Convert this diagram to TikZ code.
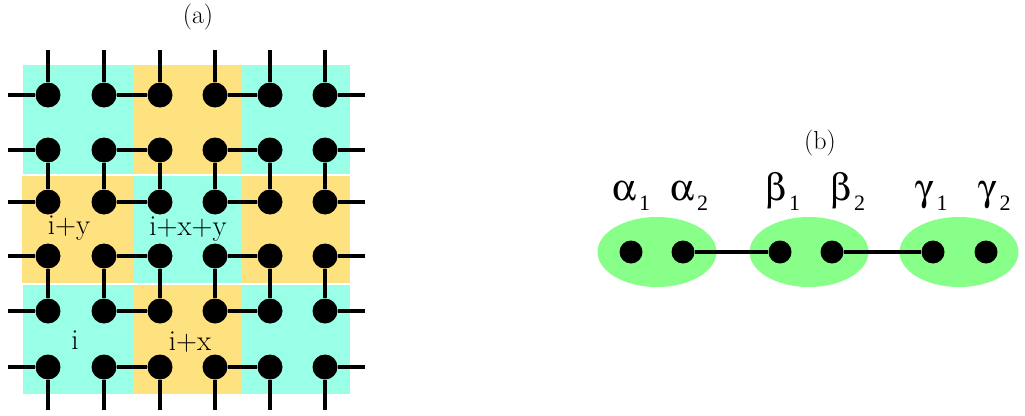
\documentclass[tikz,border=0pt]{standalone}
\usepackage{fontspec}
\usepackage[Symbol]{upgreek}
\usetikzlibrary{shapes.geometric}
\newfontfamily\digitfont{Liberation Serif}
\definecolor{plaqcyan}{RGB}{153,255,230}
\definecolor{plaqyellow}{RGB}{255,226,128}
\definecolor{clustergreen}{RGB}{136,255,136}
\newcommand{\sitelab}[2]{{\fontsize{38}{38}\selectfont$#1$}\kern3pt\raisebox{-10pt}{\fontsize{22}{22}\digitfont #2}}
\tikzset{
  site/.style={circle, fill=black, inner sep=0pt, minimum size=25pt},
  smallsite/.style={circle, fill=black, inner sep=0pt, minimum size=23pt},
  bond/.style={line width=4.5pt},
  thinbond/.style={line width=3.2pt},
  cluster/.style={ellipse, fill=clustergreen, inner sep=0pt, minimum width=119pt, minimum height=70pt},
  plaqlab/.style={font=\fontsize{29}{29}\selectfont, inner sep=0pt, anchor=base},
  panel/.style={font=\fontsize{26}{26}\selectfont, inner sep=0pt}
}
\begin{document}
\begin{tikzpicture}[x=1pt, y=-1pt]
\useasboundingbox (0,0) rectangle (1025,415);
% (a) the plaquettes, checkerboard
\foreach \xa/\xb/\ya/\yb/\col in {23/133/65/174/plaqcyan, 133/241/65/174/plaqyellow, 241/350/65/174/plaqcyan,
  22/133/176/283/plaqyellow, 133/241/176/283/plaqcyan, 241/350/176/283/plaqyellow,
  23/133/285/394/plaqcyan, 133/241/285/394/plaqyellow, 241/350/285/394/plaqcyan}
  \fill[\col] (\xa,\ya) rectangle (\xb,\yb);
\node[panel] (ta) at (198,17) {(a)};
\node[plaqlab] (lab-iy) at (69,234) {i+y};
\node[plaqlab] (lab-ixy) at (188,235) {i+x+y};
\node[plaqlab] (lab-i) at (75,349) {i};
\node[plaqlab] (lab-ix) at (190,350) {i+x};
% sites of the lattice
\foreach \c/\x in {1/48,2/104,3/160,4/215,5/270,6/325}
  \foreach \r/\y in {1/95,2/150,3/202,4/256,5/311,6/367}
    \node[site] (s\r\c) at (\x,\y) {};
% bonds
\foreach \r in {1,...,6} {
  \draw[bond] (s\r2) -- (s\r3);
  \draw[bond] (s\r4) -- (s\r5);
}
\foreach \c in {1,...,6} {
  \draw[bond] (s2\c) -- (s3\c);
  \draw[bond] (s4\c) -- (s5\c);
}
% open legs at the border
\foreach \r/\y in {1/95,2/150,3/202,4/256,5/311,6/367} {
  \coordinate (w\r) at (8,\y);
  \coordinate (e\r) at (365,\y);
  \draw[bond] (w\r) -- (s\r1);
  \draw[bond] (e\r) -- (s\r6);
}
\foreach \c/\x in {1/48,2/104,3/160,4/215,5/270,6/325} {
  \coordinate (n\c) at (\x,50);
  \coordinate (d\c) at (\x,410);
  \draw[bond] (n\c) -- (s1\c);
  \draw[bond] (d\c) -- (s6\c);
}
% (b) the chain of clusters
\node[panel] (tb) at (820,143) {(b)};
\node[cluster] (ca) at (657,252) {};
\node[cluster] (cb) at (809,252) {};
\node[cluster] (cc) at (959,252) {};
\node[smallsite] (a1) at (631,252) {};
\node[smallsite] (a2) at (683,252) {};
\node[smallsite] (b1) at (780,252) {};
\node[smallsite] (b2) at (832,252) {};
\node[smallsite] (g1) at (933,252) {};
\node[smallsite] (g2) at (986,252) {};
\draw[thinbond] (a2) -- (b1);
\draw[thinbond] (b2) -- (g1);
\node[anchor=base west, inner sep=0pt] (la1) at (612,200) {\sitelab{\upalpha}{1}};
\node[anchor=base west, inner sep=0pt] (la2) at (670,200) {\sitelab{\upalpha}{2}};
\node[anchor=base west, inner sep=0pt] (lb1) at (765,200) {\sitelab{\upbeta}{1}};
\node[anchor=base west, inner sep=0pt] (lb2) at (830,200) {\sitelab{\upbeta}{2}};
\node[anchor=base west, inner sep=0pt] (lg1) at (915,200) {\sitelab{\upgamma}{1}};
\node[anchor=base west, inner sep=0pt] (lg2) at (978,200) {\sitelab{\upgamma}{2}};
\end{tikzpicture}
\end{document}
